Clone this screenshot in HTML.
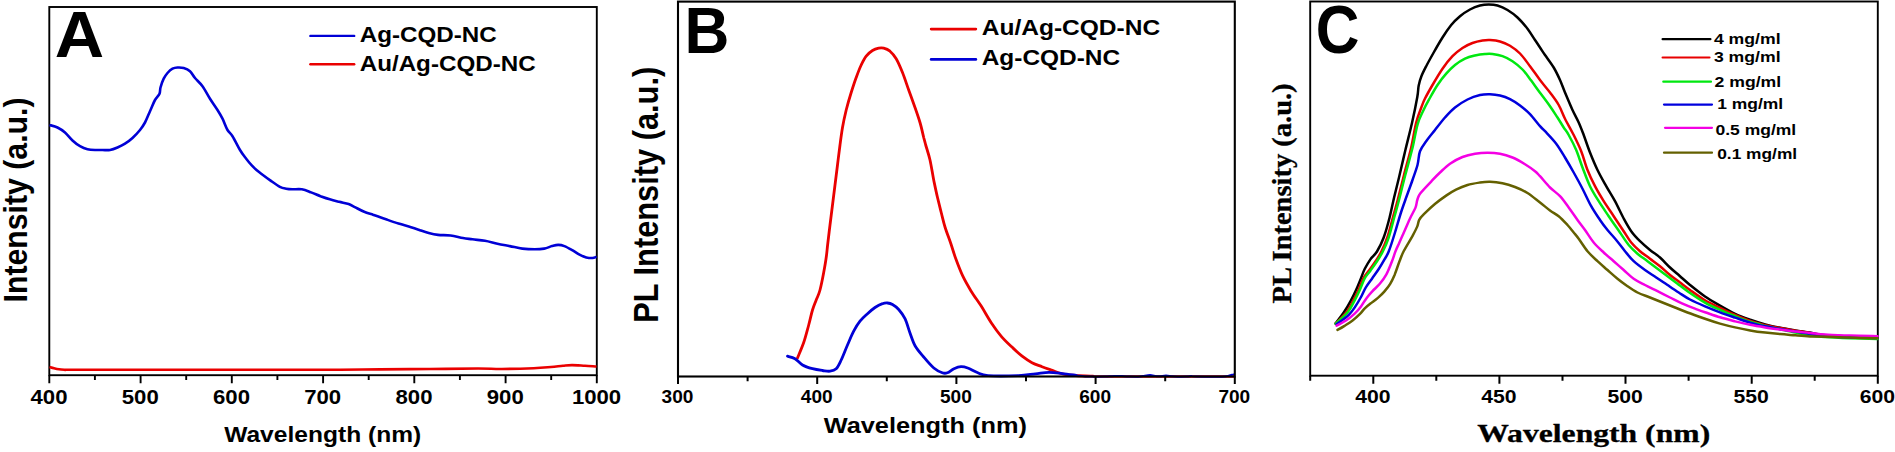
<!DOCTYPE html>
<html lang="en">
<head>
<meta charset="utf-8">
<title>Figure: absorption and PL spectra</title>
<style>
html,body{margin:0;padding:0;background:#fff;}
body{width:1895px;height:452px;overflow:hidden;}
svg{display:block;}
</style>
</head>
<body>
<svg width="1895" height="452" viewBox="0 0 1895 452">
<rect width="1895" height="452" fill="#fff"/>
<g id="chartA">
<rect x="49.3" y="7.0" width="547.5" height="368.2" fill="none" stroke="#000" stroke-width="1.9"/>
<path d="M49.3 375.2v8.1M94.9 375.2v4.9M140.6 375.2v8.1M186.2 375.2v4.9M231.8 375.2v8.1M277.4 375.2v4.9M323.1 375.2v8.1M368.7 375.2v4.9M414.3 375.2v8.1M459.9 375.2v4.9M505.6 375.2v8.1M551.2 375.2v4.9M596.8 375.2v8.1" stroke="#000" stroke-width="1.9" fill="none"/>
<path d="M49.5 367.0C50.2 367.2 52.4 367.9 54.0 368.3C55.6 368.7 57.2 369.1 59.0 369.3C60.8 369.6 63.2 369.7 65.0 369.8C66.8 369.9 60.8 369.8 70.0 369.8C79.2 369.8 98.3 369.8 120.0 369.8C141.7 369.8 173.3 369.8 200.0 369.8C226.7 369.8 256.7 369.8 280.0 369.8C303.3 369.8 323.3 369.9 340.0 369.8C356.7 369.7 365.0 369.5 380.0 369.4C395.0 369.3 413.7 369.1 430.0 369.0C446.3 368.9 466.0 368.5 478.0 368.5C490.0 368.5 492.7 369.1 502.0 369.0C511.3 368.9 525.5 368.5 533.7 368.2C541.9 367.9 546.1 367.4 551.0 367.0C555.9 366.6 559.5 366.0 563.0 365.7C566.5 365.4 568.3 365.1 572.0 365.1C575.7 365.1 580.9 365.5 585.0 365.7C589.1 365.9 594.6 366.4 596.5 366.5" fill="none" stroke="#ea0000" stroke-width="2.6" stroke-linejoin="round" stroke-linecap="butt"/>
<path d="M49.5 125.0C50.8 125.4 54.9 126.2 57.5 127.5C60.1 128.8 62.5 130.3 65.0 132.5C67.5 134.7 70.0 138.2 72.5 140.5C75.0 142.8 77.5 144.8 80.0 146.2C82.5 147.6 85.0 148.6 87.5 149.2C90.0 149.8 92.5 149.9 95.0 150.0C97.5 150.1 100.0 150.0 102.5 150.0C105.0 150.0 107.5 150.4 110.0 150.0C112.5 149.6 115.0 148.6 117.5 147.5C120.0 146.4 122.5 145.3 125.0 143.7C127.5 142.1 130.0 140.3 132.5 138.0C135.0 135.7 137.9 132.6 140.0 130.0C142.1 127.4 143.3 125.6 145.0 122.5C146.7 119.4 148.3 115.0 150.0 111.2C151.7 107.5 153.4 102.9 155.0 100.0C156.6 97.1 158.6 95.8 159.5 93.7C160.4 91.6 159.8 90.0 160.5 87.5C161.2 85.0 162.5 81.1 163.7 78.7C164.9 76.3 166.0 74.7 167.5 73.0C169.0 71.3 170.8 69.6 172.5 68.7C174.2 67.8 175.6 67.6 177.5 67.5C179.4 67.4 181.6 67.4 183.7 68.0C185.8 68.6 188.1 69.5 190.0 71.2C191.9 72.9 192.9 75.5 195.0 78.0C197.1 80.5 200.0 82.8 202.5 86.2C205.0 89.7 207.5 94.7 210.0 98.7C212.5 102.7 215.4 106.7 217.5 110.0C219.6 113.3 220.8 115.4 222.5 118.7C224.2 122.0 225.8 127.1 227.5 130.0C229.2 132.9 230.4 132.9 232.5 136.2C234.6 139.5 237.8 146.3 240.0 150.0C242.2 153.7 244.0 155.9 246.0 158.5C248.0 161.1 250.2 163.8 252.0 165.7C253.8 167.6 255.0 168.7 256.5 170.0C258.0 171.3 258.8 171.9 261.2 173.7C263.6 175.5 267.5 178.4 270.6 180.6C273.7 182.8 277.3 185.5 279.9 186.8C282.5 188.2 284.1 188.3 286.2 188.7C288.3 189.1 289.8 189.2 292.4 189.3C295.0 189.4 298.7 188.8 301.8 189.3C304.9 189.8 308.0 191.2 311.1 192.4C314.2 193.6 317.4 195.0 320.5 196.2C323.6 197.3 326.7 198.4 329.8 199.3C332.9 200.2 336.1 201.0 339.2 201.8C342.3 202.6 346.0 203.1 348.6 204.0C351.2 204.9 352.2 205.8 354.8 207.1C357.4 208.4 361.1 210.5 364.2 211.8C367.3 213.1 369.9 213.7 373.5 214.9C377.1 216.2 381.8 217.9 386.0 219.3C390.2 220.8 394.3 222.3 398.5 223.6C402.7 224.9 407.4 226.1 411.0 227.2C414.6 228.3 417.1 229.2 420.0 230.2C422.9 231.2 425.7 232.2 428.7 233.0C431.7 233.8 434.4 234.5 438.0 234.9C441.6 235.3 446.4 235.0 450.6 235.5C454.8 236.0 459.4 237.4 463.0 238.0C466.6 238.6 468.8 238.8 472.4 239.3C476.0 239.8 480.7 240.1 484.9 240.8C489.1 241.5 493.2 242.8 497.4 243.7C501.5 244.6 505.7 245.3 509.8 246.1C514.0 246.9 518.1 248.1 522.3 248.6C526.5 249.1 531.1 249.3 534.8 249.3C538.4 249.3 541.3 249.1 544.2 248.6C547.1 248.1 549.7 246.7 552.0 246.1C554.3 245.5 556.1 244.9 558.2 244.9C560.3 244.9 562.1 245.2 564.4 246.1C566.7 247.0 569.6 248.7 572.2 250.2C574.8 251.7 577.6 253.7 580.0 254.9C582.4 256.1 584.2 256.9 586.3 257.4C588.4 257.9 590.8 258.1 592.5 258.0C594.2 257.9 595.9 257.0 596.6 256.8" fill="none" stroke="#0000d6" stroke-width="2.6" stroke-linejoin="round" stroke-linecap="butt"/>
<text x="30.5" y="404.0" font-family="'Liberation Sans', Arial, sans-serif" font-weight="bold" font-size="20.5" textLength="37.0" lengthAdjust="spacingAndGlyphs">400</text>
<text x="121.8" y="404.0" font-family="'Liberation Sans', Arial, sans-serif" font-weight="bold" font-size="20.5" textLength="37.0" lengthAdjust="spacingAndGlyphs">500</text>
<text x="213.0" y="404.0" font-family="'Liberation Sans', Arial, sans-serif" font-weight="bold" font-size="20.5" textLength="37.0" lengthAdjust="spacingAndGlyphs">600</text>
<text x="304.2" y="404.0" font-family="'Liberation Sans', Arial, sans-serif" font-weight="bold" font-size="20.5" textLength="37.0" lengthAdjust="spacingAndGlyphs">700</text>
<text x="395.5" y="404.0" font-family="'Liberation Sans', Arial, sans-serif" font-weight="bold" font-size="20.5" textLength="37.0" lengthAdjust="spacingAndGlyphs">800</text>
<text x="486.8" y="404.0" font-family="'Liberation Sans', Arial, sans-serif" font-weight="bold" font-size="20.5" textLength="37.0" lengthAdjust="spacingAndGlyphs">900</text>
<text x="571.9" y="404.0" font-family="'Liberation Sans', Arial, sans-serif" font-weight="bold" font-size="20.5" textLength="49.3" lengthAdjust="spacingAndGlyphs">1000</text>
<text x="224.2" y="442.0" font-family="'Liberation Sans', Arial, sans-serif" font-weight="bold" font-size="22.3" textLength="197.0" lengthAdjust="spacingAndGlyphs">Wavelength (nm)</text>
<g transform="translate(26.8 200.0) rotate(-90) scale(1 1.100)">
<text x="0" y="0" text-anchor="middle" font-family="'Liberation Sans', Arial, sans-serif" font-weight="bold" font-size="30.0" textLength="205.0" lengthAdjust="spacingAndGlyphs">Intensity (a.u.)</text></g>
<text x="54.8" y="57.4" font-family="'Liberation Sans', Arial, sans-serif" font-weight="bold" font-size="65.4" textLength="49.4" lengthAdjust="spacingAndGlyphs">A</text>
<path d="M310.4 35.9H354.2" stroke="#0000d6" stroke-width="2.4" stroke-linecap="round"/>
<path d="M310.4 64.3H354.2" stroke="#ea0000" stroke-width="2.4" stroke-linecap="round"/>
<text x="359.7" y="42.0" font-family="'Liberation Sans', Arial, sans-serif" font-weight="bold" font-size="22.8" textLength="137.0" lengthAdjust="spacingAndGlyphs">Ag-CQD-NC</text>
<text x="359.7" y="70.5" font-family="'Liberation Sans', Arial, sans-serif" font-weight="bold" font-size="22.8" textLength="176.0" lengthAdjust="spacingAndGlyphs">Au/Ag-CQD-NC</text>
</g>
<g id="chartB">
<path d="M797.5 358.0C798.5 355.4 801.8 348.0 803.7 342.5C805.6 337.0 807.2 330.4 808.7 325.0C810.2 319.6 811.2 314.2 812.5 310.0C813.8 305.8 815.0 303.3 816.2 300.0C817.5 296.7 818.8 294.6 820.0 290.0C821.2 285.4 822.7 277.9 823.7 272.5C824.7 267.1 825.6 262.1 826.2 257.5C826.9 252.9 827.0 250.4 827.6 245.0C828.2 239.6 829.2 231.7 830.0 225.0C830.8 218.3 831.7 211.7 832.5 205.0C833.3 198.3 834.2 191.7 835.0 185.0C835.8 178.3 836.7 171.7 837.5 165.0C838.3 158.3 839.2 151.2 840.0 145.0C840.8 138.8 841.5 133.3 842.5 127.5C843.5 121.7 844.8 115.8 846.2 110.0C847.7 104.2 849.5 97.9 851.2 92.5C852.9 87.1 854.5 82.1 856.2 77.5C857.9 72.9 859.5 68.5 861.2 65.0C862.9 61.5 864.3 58.6 866.2 56.2C868.1 53.8 870.4 51.8 872.5 50.5C874.6 49.2 876.8 48.6 878.7 48.2C880.6 47.8 881.8 47.7 883.7 48.2C885.6 48.7 887.9 49.5 890.0 51.2C892.1 53.0 894.1 55.2 896.2 58.7C898.3 62.2 900.4 67.3 902.5 72.5C904.6 77.7 906.6 84.2 908.7 90.0C910.8 95.8 913.1 102.1 915.0 107.5C916.9 112.9 918.5 117.5 920.0 122.5C921.5 127.5 922.8 133.8 923.7 137.5C924.7 141.2 924.7 141.2 925.7 145.0C926.8 148.8 928.7 154.2 930.0 160.0C931.3 165.8 932.5 173.8 933.7 180.0C935.0 186.2 936.2 192.1 937.5 197.5C938.8 202.9 940.0 207.6 941.2 212.5C942.5 217.4 943.4 221.8 945.0 227.0C946.6 232.2 949.0 238.2 950.8 243.5C952.6 248.8 953.8 253.4 955.8 258.8C957.8 264.2 960.1 270.4 962.6 275.7C965.1 281.0 967.9 285.8 971.0 290.9C974.1 296.0 977.8 300.8 981.2 306.1C984.6 311.5 988.0 317.9 991.4 323.0C994.8 328.1 998.1 332.6 1001.5 336.6C1004.9 340.6 1008.3 343.6 1011.7 346.8C1015.1 350.0 1018.4 353.2 1021.8 355.9C1025.2 358.5 1028.6 360.9 1032.0 362.7C1035.4 364.5 1038.6 365.4 1042.0 366.7C1045.4 368.0 1048.9 369.2 1052.3 370.4C1055.7 371.6 1058.5 372.9 1062.4 373.8C1066.4 374.7 1070.9 375.1 1076.0 375.5C1081.1 375.9 1090.2 376.1 1093.0 376.2" fill="none" stroke="#ea0000" stroke-width="2.8" stroke-linejoin="round" stroke-linecap="round"/>
<path d="M1093.0 376.5C1116.5 376.5 1210.5 376.5 1234.0 376.5" fill="none" stroke="#ea0000" stroke-width="2.3" stroke-linecap="butt"/>
<path d="M787.5 356.2C788.8 356.6 792.5 357.2 795.0 358.7C797.5 360.2 799.6 363.3 802.5 365.0C805.4 366.7 809.2 367.8 812.5 368.7C815.8 369.6 819.6 370.1 822.5 370.5C825.4 370.9 827.7 371.5 830.0 371.2C832.3 370.9 834.3 370.6 836.2 368.7C838.1 366.8 839.3 363.9 841.2 360.0C843.1 356.1 845.4 349.8 847.5 345.0C849.6 340.2 851.6 335.2 853.7 331.2C855.8 327.2 857.7 324.1 860.0 321.2C862.3 318.3 865.0 316.0 867.5 313.7C870.0 311.4 872.5 309.2 875.0 307.5C877.5 305.8 880.4 304.4 882.5 303.7C884.6 302.9 885.8 302.9 887.5 303.0C889.2 303.1 890.6 303.4 892.5 304.5C894.4 305.6 896.6 307.1 898.7 309.5C900.8 311.9 903.1 314.8 905.0 318.7C906.9 322.6 908.3 328.4 910.0 333.0C911.7 337.6 912.9 342.0 915.2 346.0C917.5 350.0 920.6 353.3 923.7 357.0C926.8 360.7 930.7 365.4 933.8 368.0C936.9 370.6 940.0 372.0 942.3 372.8C944.6 373.6 945.4 373.5 947.4 372.8C949.4 372.1 951.7 369.7 954.0 368.7C956.3 367.7 958.7 366.8 961.0 366.7C963.3 366.6 964.9 367.0 967.7 368.0C970.5 369.0 974.4 371.5 977.8 372.8C981.2 374.1 981.2 375.1 988.0 375.6C994.8 376.1 1010.5 375.9 1018.4 375.6C1026.3 375.3 1030.3 374.3 1035.4 373.8C1040.5 373.3 1044.5 372.4 1049.0 372.4C1053.5 372.4 1057.9 373.1 1062.4 373.6C1066.9 374.1 1073.7 375.1 1076.0 375.4" fill="none" stroke="#0000d6" stroke-width="2.8" stroke-linejoin="round" stroke-linecap="round"/>
<path d="M1076.0 375.4C1078.3 375.6 1085.2 376.4 1090.0 376.6C1094.8 376.8 1101.3 376.7 1105.0 376.6C1108.7 376.5 1109.8 376.3 1112.0 376.2C1114.2 376.1 1116.0 375.9 1118.0 375.9C1120.0 375.9 1122.0 376.1 1124.0 376.2C1126.0 376.3 1127.7 376.5 1130.0 376.6C1132.3 376.7 1135.8 376.8 1138.0 376.7C1140.2 376.6 1141.0 376.4 1143.0 376.1C1145.0 375.8 1147.8 375.1 1150.0 375.1C1152.2 375.1 1154.3 375.9 1156.0 376.1C1157.7 376.3 1158.3 376.4 1160.0 376.3C1161.7 376.2 1164.0 375.5 1166.0 375.5C1168.0 375.5 1170.0 376.1 1172.0 376.3C1174.0 376.5 1175.5 376.6 1178.0 376.7C1180.5 376.8 1184.8 376.7 1187.0 376.6C1189.2 376.5 1190.0 376.1 1191.5 376.1C1193.0 376.1 1190.9 376.5 1196.0 376.6C1201.1 376.7 1216.7 376.8 1222.0 376.7C1227.3 376.6 1226.3 376.2 1228.0 375.9C1229.7 375.6 1231.0 375.1 1232.0 374.8C1233.0 374.6 1233.7 374.5 1234.0 374.4" fill="none" stroke="#0000d6" stroke-width="2.0" stroke-linejoin="round" stroke-linecap="round"/>
<rect x="678.0" y="1.6" width="556.8" height="374.9" fill="none" stroke="#000" stroke-width="2.1"/>
<path d="M678.0 376.5v7.6M747.6 376.5v4.8M817.2 376.5v7.6M886.8 376.5v4.8M956.4 376.5v7.6M1026.0 376.5v4.8M1095.6 376.5v7.6M1165.2 376.5v4.8M1234.8 376.5v7.6" stroke="#000" stroke-width="2" fill="none"/>
<text x="661.6" y="402.6" font-family="'Liberation Sans', Arial, sans-serif" font-weight="bold" font-size="19.2" textLength="31.8" lengthAdjust="spacingAndGlyphs">300</text>
<text x="800.8" y="402.6" font-family="'Liberation Sans', Arial, sans-serif" font-weight="bold" font-size="19.2" textLength="31.8" lengthAdjust="spacingAndGlyphs">400</text>
<text x="940.0" y="402.6" font-family="'Liberation Sans', Arial, sans-serif" font-weight="bold" font-size="19.2" textLength="31.8" lengthAdjust="spacingAndGlyphs">500</text>
<text x="1079.2" y="402.6" font-family="'Liberation Sans', Arial, sans-serif" font-weight="bold" font-size="19.2" textLength="31.8" lengthAdjust="spacingAndGlyphs">600</text>
<text x="1218.4" y="402.6" font-family="'Liberation Sans', Arial, sans-serif" font-weight="bold" font-size="19.2" textLength="31.8" lengthAdjust="spacingAndGlyphs">700</text>
<text x="823.7" y="432.7" font-family="'Liberation Sans', Arial, sans-serif" font-weight="bold" font-size="21.2" textLength="203.3" lengthAdjust="spacingAndGlyphs">Wavelength (nm)</text>
<g transform="translate(657.7 194.8) rotate(-90) scale(1 1.120)">
<text x="0" y="0" text-anchor="middle" font-family="'Liberation Sans', Arial, sans-serif" font-weight="bold" font-size="30.5" textLength="256.0" lengthAdjust="spacingAndGlyphs">PL Intensity (a.u.)</text></g>
<text x="684.4" y="53.0" font-family="'Liberation Sans', Arial, sans-serif" font-weight="bold" font-size="65.4" textLength="44.9" lengthAdjust="spacingAndGlyphs">B</text>
<path d="M931.2 29.1H975.8" stroke="#ea0000" stroke-width="2.8" stroke-linecap="round"/>
<path d="M931.2 59.4H975.8" stroke="#0000d6" stroke-width="2.8" stroke-linecap="round"/>
<text x="981.7" y="35.0" font-family="'Liberation Sans', Arial, sans-serif" font-weight="bold" font-size="21.9" textLength="178.5" lengthAdjust="spacingAndGlyphs">Au/Ag-CQD-NC</text>
<text x="981.7" y="64.5" font-family="'Liberation Sans', Arial, sans-serif" font-weight="bold" font-size="21.9" textLength="138.5" lengthAdjust="spacingAndGlyphs">Ag-CQD-NC</text>
</g>
<g id="chartC">
<rect x="1310.2" y="1.5" width="567.6" height="374.2" fill="none" stroke="#000" stroke-width="1.9"/>
<path d="M1310.2 375.7v5.0M1373.3 375.7v8.0M1436.3 375.7v5.0M1499.4 375.7v8.0M1562.5 375.7v5.0M1625.5 375.7v8.0M1688.6 375.7v5.0M1751.7 375.7v8.0M1814.7 375.7v5.0M1877.8 375.7v8.0" stroke="#000" stroke-width="2" fill="none"/>
<path d="M1335.6 323.3C1337.0 321.4 1341.6 315.8 1344.1 312.0C1346.6 308.2 1348.7 304.6 1350.7 300.8C1352.7 297.1 1354.6 293.3 1356.3 289.5C1358.0 285.7 1359.6 281.6 1361.0 278.2C1362.4 274.8 1363.2 271.9 1364.8 268.8C1366.4 265.7 1368.4 262.3 1370.4 259.4C1372.4 256.5 1374.8 255.2 1377.0 251.5C1379.2 247.8 1381.6 243.2 1383.7 237.5C1385.8 231.8 1387.9 224.2 1389.6 217.5C1391.3 210.8 1392.5 204.2 1394.1 197.5C1395.7 190.8 1397.1 185.4 1399.0 177.5C1400.9 169.6 1403.2 159.2 1405.4 150.0C1407.6 140.8 1410.1 131.3 1412.1 122.5C1414.1 113.7 1416.2 103.2 1417.3 97.0C1418.4 90.8 1418.0 89.0 1418.7 85.5C1419.4 82.0 1420.2 79.2 1421.5 76.0C1422.8 72.8 1424.2 70.1 1426.2 66.2C1428.2 62.3 1431.0 57.3 1433.7 52.5C1436.4 47.7 1439.6 42.1 1442.5 37.5C1445.4 32.9 1448.3 28.6 1451.2 25.0C1454.1 21.4 1456.9 18.8 1460.0 16.2C1463.1 13.6 1466.7 11.3 1470.0 9.5C1473.3 7.7 1476.9 6.3 1480.0 5.5C1483.1 4.7 1485.8 4.5 1488.7 4.5C1491.6 4.5 1494.4 4.6 1497.5 5.5C1500.6 6.4 1504.2 8.0 1507.5 10.0C1510.8 12.0 1514.2 14.4 1517.5 17.5C1520.8 20.6 1524.6 24.9 1527.5 28.7C1530.4 32.5 1532.9 36.9 1535.0 40.0C1537.1 43.1 1538.3 45.0 1540.0 47.5C1541.7 50.0 1542.7 51.7 1545.0 55.0C1547.3 58.3 1551.2 63.3 1553.7 67.5C1556.2 71.7 1558.1 75.8 1560.0 80.0C1561.9 84.2 1562.9 87.5 1565.0 92.5C1567.1 97.5 1570.2 105.0 1572.5 110.0C1574.8 115.0 1576.8 118.3 1578.7 122.5C1580.6 126.7 1581.8 130.0 1583.7 135.0C1585.6 140.0 1587.7 146.7 1590.0 152.5C1592.3 158.3 1594.8 164.4 1597.5 170.0C1600.2 175.6 1603.3 181.0 1606.2 186.2C1609.1 191.4 1612.1 195.8 1615.0 201.2C1617.9 206.6 1621.0 213.5 1623.7 218.5C1626.4 223.5 1628.5 227.4 1631.2 231.2C1633.9 235.0 1636.9 238.1 1640.0 241.2C1643.1 244.3 1646.7 247.3 1650.0 250.0C1653.3 252.7 1656.7 254.6 1660.0 257.5C1663.3 260.4 1666.7 264.4 1670.0 267.5C1673.3 270.6 1676.7 273.3 1680.0 276.2C1683.3 279.1 1685.8 281.6 1690.0 285.0C1694.2 288.4 1700.0 293.1 1705.0 296.5C1710.0 299.9 1715.0 302.7 1720.0 305.6C1725.0 308.5 1730.1 311.4 1735.1 313.8C1740.1 316.2 1745.2 318.0 1750.2 319.8C1755.2 321.6 1760.2 323.1 1765.2 324.4C1770.2 325.7 1775.2 326.8 1780.2 327.8C1785.2 328.8 1790.3 329.6 1795.3 330.4C1800.3 331.2 1805.0 331.8 1810.0 332.6C1815.0 333.4 1818.3 334.7 1825.0 335.3C1831.7 335.9 1841.2 336.2 1850.0 336.5C1858.8 336.8 1872.9 337.2 1877.5 337.3" fill="none" stroke="#000000" stroke-width="2.5" stroke-linejoin="round" stroke-linecap="round"/>
<path d="M1335.6 323.6C1337.4 321.7 1343.7 315.8 1346.6 312.0C1349.5 308.2 1351.1 304.6 1353.1 300.8C1355.1 297.1 1357.0 293.3 1358.7 289.5C1360.4 285.7 1361.8 281.4 1363.5 278.2C1365.2 275.0 1367.0 273.3 1369.0 270.5C1371.0 267.7 1373.5 264.4 1375.6 261.2C1377.7 258.0 1379.5 255.4 1381.4 251.5C1383.4 247.6 1385.4 243.2 1387.3 237.5C1389.2 231.8 1391.2 223.8 1392.9 217.5C1394.6 211.2 1395.9 207.1 1397.7 200.0C1399.5 192.9 1401.8 183.8 1404.0 175.0C1406.2 166.2 1409.2 156.2 1411.2 147.5C1413.2 138.8 1414.5 129.2 1416.2 122.5C1417.9 115.8 1419.8 111.5 1421.3 107.5C1422.8 103.5 1423.1 102.2 1425.0 98.5C1426.9 94.8 1429.6 90.0 1432.5 85.0C1435.4 80.0 1439.2 73.5 1442.5 68.7C1445.8 63.9 1449.2 59.7 1452.5 56.2C1455.8 52.8 1459.2 50.2 1462.5 48.0C1465.8 45.8 1469.2 44.2 1472.5 43.0C1475.8 41.8 1479.6 41.0 1482.5 40.5C1485.4 40.0 1487.1 39.8 1490.0 40.0C1492.9 40.2 1496.7 40.5 1500.0 41.5C1503.3 42.5 1506.7 43.7 1510.0 45.7C1513.3 47.7 1516.7 50.1 1520.0 53.5C1523.3 56.9 1526.7 61.8 1530.0 66.2C1533.3 70.6 1536.7 75.6 1540.0 80.0C1543.3 84.4 1546.9 88.3 1550.0 92.5C1553.1 96.7 1556.2 100.6 1558.7 105.0C1561.2 109.4 1562.5 113.7 1565.0 118.7C1567.5 123.7 1571.0 129.6 1573.7 135.0C1576.4 140.4 1578.9 145.4 1581.2 151.2C1583.5 157.0 1585.2 164.2 1587.5 170.0C1589.8 175.8 1592.3 181.0 1595.0 186.2C1597.7 191.4 1600.6 196.2 1603.7 201.2C1606.8 206.2 1610.4 211.2 1613.7 216.2C1617.0 221.2 1620.8 226.8 1623.7 231.2C1626.6 235.6 1628.5 239.2 1631.2 242.5C1633.9 245.8 1636.9 248.5 1640.0 251.2C1643.1 253.9 1646.7 256.2 1650.0 258.7C1653.3 261.2 1656.7 263.5 1660.0 266.2C1663.3 268.9 1666.7 272.3 1670.0 275.0C1673.3 277.7 1676.7 280.0 1680.0 282.5C1683.3 285.0 1685.8 287.0 1690.0 290.0C1694.2 293.0 1700.0 297.3 1705.0 300.3C1710.0 303.3 1715.0 305.4 1720.0 307.8C1725.0 310.2 1730.1 312.7 1735.1 314.9C1740.1 317.1 1745.2 319.2 1750.2 320.9C1755.2 322.6 1760.2 323.9 1765.2 325.1C1770.2 326.3 1775.2 327.2 1780.2 328.1C1785.2 329.0 1790.3 329.9 1795.3 330.7C1800.3 331.5 1805.0 332.2 1810.0 333.0C1815.0 333.8 1818.3 335.0 1825.0 335.6C1831.7 336.2 1841.2 336.5 1850.0 336.8C1858.8 337.1 1872.9 337.5 1877.5 337.6" fill="none" stroke="#e80000" stroke-width="2.5" stroke-linejoin="round" stroke-linecap="round"/>
<path d="M1335.6 323.9C1337.6 321.9 1344.8 315.9 1347.9 312.0C1351.0 308.1 1352.4 304.6 1354.4 300.8C1356.4 297.1 1358.3 293.3 1360.0 289.5C1361.7 285.7 1363.1 281.3 1364.8 278.2C1366.5 275.1 1368.4 273.5 1370.4 270.7C1372.4 267.9 1374.9 264.5 1377.0 261.3C1379.1 258.1 1380.8 255.5 1382.8 251.5C1384.8 247.5 1386.8 243.2 1388.7 237.5C1390.6 231.8 1392.5 223.8 1394.2 217.5C1395.9 211.2 1397.2 207.1 1399.0 200.0C1400.8 192.9 1403.0 183.8 1405.3 175.0C1407.6 166.2 1410.5 155.9 1412.6 147.5C1414.6 139.1 1415.8 130.4 1417.6 124.3C1419.3 118.2 1421.2 115.2 1423.1 111.0C1425.0 106.8 1426.8 103.5 1429.2 99.2C1431.6 94.9 1434.7 89.2 1437.5 85.0C1440.3 80.8 1443.3 77.0 1446.2 73.7C1449.1 70.4 1451.9 67.5 1455.0 65.0C1458.1 62.5 1461.7 60.3 1465.0 58.7C1468.3 57.1 1471.7 56.3 1475.0 55.5C1478.3 54.7 1482.1 54.2 1485.0 54.0C1487.9 53.8 1489.6 53.6 1492.5 54.0C1495.4 54.4 1499.2 55.0 1502.5 56.2C1505.8 57.4 1509.2 59.0 1512.5 61.2C1515.8 63.4 1519.4 66.3 1522.5 69.5C1525.6 72.7 1528.1 76.4 1531.0 80.3C1533.9 84.2 1536.8 88.4 1540.0 92.7C1543.2 97.0 1547.1 102.1 1550.0 106.2C1552.9 110.3 1555.2 114.0 1557.5 117.5C1559.8 121.0 1561.8 124.6 1563.7 127.5C1565.6 130.4 1566.6 131.2 1568.7 135.0C1570.8 138.8 1573.9 144.6 1576.2 150.0C1578.5 155.4 1580.2 161.5 1582.5 167.5C1584.8 173.5 1587.3 180.6 1590.0 186.2C1592.7 191.8 1595.6 196.2 1598.7 201.2C1601.8 206.2 1605.2 211.0 1608.7 216.2C1612.2 221.4 1616.7 227.7 1620.0 232.5C1623.3 237.3 1625.8 241.5 1628.7 245.0C1631.6 248.5 1634.4 251.0 1637.5 253.7C1640.6 256.4 1644.2 258.7 1647.5 261.2C1650.8 263.7 1654.2 266.2 1657.5 268.7C1660.8 271.2 1664.2 273.7 1667.5 276.2C1670.8 278.7 1674.2 281.2 1677.5 283.7C1680.8 286.2 1682.9 288.0 1687.5 291.2C1692.1 294.4 1699.6 299.5 1705.0 302.6C1710.4 305.7 1715.0 307.6 1720.0 309.8C1725.0 312.1 1730.1 314.1 1735.1 316.1C1740.1 318.1 1745.2 320.2 1750.2 321.8C1755.2 323.4 1760.2 324.6 1765.2 325.9C1770.2 327.1 1775.2 328.2 1780.2 329.3C1785.2 330.4 1790.3 331.6 1795.3 332.6C1800.3 333.6 1805.0 334.7 1810.0 335.4C1815.0 336.1 1818.3 336.5 1825.0 337.0C1831.7 337.5 1841.2 337.9 1850.0 338.2C1858.8 338.5 1872.9 338.9 1877.5 339.0" fill="none" stroke="#00e810" stroke-width="2.5" stroke-linejoin="round" stroke-linecap="round"/>
<path d="M1336.6 324.2C1338.6 322.6 1345.7 317.8 1348.8 314.8C1351.9 311.8 1353.4 309.4 1355.4 306.4C1357.4 303.4 1359.3 300.1 1361.0 297.0C1362.7 293.9 1363.8 290.7 1365.7 287.6C1367.6 284.5 1370.1 281.3 1372.3 278.2C1374.5 275.1 1376.9 271.9 1378.9 268.8C1380.9 265.7 1382.8 262.4 1384.5 259.4C1386.2 256.4 1387.2 255.5 1388.9 251.0C1390.7 246.5 1393.1 238.7 1395.0 232.5C1396.9 226.3 1398.8 219.4 1400.5 214.0C1402.2 208.6 1403.3 205.7 1405.3 200.0C1407.3 194.3 1410.5 185.8 1412.5 180.0C1414.5 174.2 1416.2 169.8 1417.5 165.0C1418.8 160.2 1418.5 155.2 1420.0 151.2C1421.5 147.2 1423.7 144.7 1426.2 141.2C1428.7 137.7 1431.9 133.9 1435.0 130.0C1438.1 126.0 1441.7 121.2 1445.0 117.5C1448.3 113.8 1451.2 110.5 1455.0 107.5C1458.8 104.5 1463.3 101.6 1467.5 99.5C1471.7 97.4 1476.2 95.9 1480.0 95.0C1483.8 94.1 1486.7 94.1 1490.0 94.2C1493.3 94.3 1496.7 94.7 1500.0 95.5C1503.3 96.3 1506.7 97.5 1510.0 99.2C1513.3 100.9 1516.7 103.0 1520.0 105.5C1523.3 108.0 1526.7 110.8 1530.0 114.2C1533.3 117.7 1537.5 123.4 1540.0 126.2C1542.5 129.0 1542.3 128.3 1545.0 131.2C1547.7 134.1 1552.9 139.3 1556.2 143.7C1559.5 148.1 1562.1 152.7 1565.0 157.5C1567.9 162.3 1570.8 167.3 1573.7 172.5C1576.6 177.7 1579.6 183.1 1582.5 188.7C1585.4 194.3 1588.3 201.0 1591.2 206.2C1594.1 211.4 1597.3 216.0 1600.0 220.0C1602.7 224.0 1604.8 226.7 1607.5 230.0C1610.2 233.3 1613.3 236.5 1616.2 240.0C1619.1 243.5 1622.1 247.7 1625.0 251.2C1627.9 254.7 1630.4 258.1 1633.7 261.2C1637.0 264.3 1641.2 267.3 1645.0 270.0C1648.8 272.7 1652.5 275.0 1656.2 277.5C1660.0 280.0 1663.8 282.5 1667.5 285.0C1671.2 287.5 1675.0 290.1 1678.7 292.5C1682.5 294.9 1685.6 297.2 1690.0 299.5C1694.4 301.8 1700.0 304.2 1705.0 306.3C1710.0 308.4 1715.0 310.4 1720.0 312.3C1725.0 314.2 1730.1 315.9 1735.1 317.6C1740.1 319.3 1745.2 321.2 1750.2 322.6C1755.2 324.1 1760.2 325.2 1765.2 326.3C1770.2 327.4 1775.2 328.1 1780.2 329.0C1785.2 329.9 1790.3 330.8 1795.3 331.6C1800.3 332.4 1805.0 333.0 1810.0 333.8C1815.0 334.6 1818.3 335.7 1825.0 336.3C1831.7 336.9 1841.2 337.0 1850.0 337.3C1858.8 337.6 1872.9 337.9 1877.5 338.0" fill="none" stroke="#0000dd" stroke-width="2.5" stroke-linejoin="round" stroke-linecap="round"/>
<path d="M1336.6 325.6C1338.2 324.8 1343.0 322.4 1346.0 320.5C1349.0 318.6 1351.9 316.2 1354.4 313.9C1356.9 311.5 1359.0 309.1 1361.0 306.4C1363.0 303.7 1364.8 300.4 1366.7 297.9C1368.6 295.4 1370.1 293.8 1372.3 291.4C1374.5 289.0 1377.4 286.6 1379.8 283.8C1382.2 281.0 1384.4 278.1 1386.4 274.4C1388.4 270.6 1390.5 265.2 1392.0 261.3C1393.5 257.4 1394.4 254.0 1395.6 251.0C1396.8 248.0 1397.7 246.3 1399.0 243.5C1400.3 240.7 1401.4 238.0 1403.2 233.9C1405.0 229.8 1407.8 223.3 1409.8 218.9C1411.8 214.5 1414.2 210.8 1415.5 207.6C1416.8 204.4 1416.5 202.3 1417.3 200.0C1418.1 197.7 1417.8 196.6 1420.2 193.5C1422.6 190.4 1428.1 184.8 1431.4 181.3C1434.7 177.8 1436.9 175.4 1440.0 172.5C1443.1 169.6 1446.2 166.3 1450.0 163.7C1453.8 161.1 1458.3 158.7 1462.5 157.0C1466.7 155.3 1470.8 154.4 1475.0 153.7C1479.2 153.0 1483.3 152.7 1487.5 152.7C1491.7 152.7 1495.8 152.9 1500.0 153.7C1504.2 154.5 1508.3 155.8 1512.5 157.5C1516.7 159.2 1521.2 161.9 1525.0 164.2C1528.8 166.5 1532.5 169.2 1535.0 171.2C1537.5 173.2 1537.5 173.5 1540.0 176.2C1542.5 178.9 1546.7 184.2 1550.0 187.5C1553.3 190.8 1556.9 192.9 1560.0 196.2C1563.1 199.5 1565.8 203.5 1568.7 207.5C1571.6 211.5 1574.8 216.2 1577.5 220.0C1580.2 223.8 1582.3 226.2 1585.0 230.0C1587.7 233.8 1590.6 238.8 1593.7 242.5C1596.8 246.2 1600.4 249.4 1603.7 252.5C1607.0 255.6 1610.4 258.3 1613.7 261.2C1617.0 264.1 1620.4 267.1 1623.7 270.0C1627.0 272.9 1630.2 276.2 1633.7 278.7C1637.2 281.2 1641.0 282.9 1645.0 285.0C1649.0 287.1 1653.3 289.1 1657.5 291.2C1661.7 293.3 1665.8 295.4 1670.0 297.5C1674.2 299.6 1678.3 301.8 1682.5 303.7C1686.7 305.6 1691.2 307.3 1695.0 308.7C1698.8 310.1 1700.8 310.9 1705.0 312.3C1709.2 313.7 1715.0 315.8 1720.0 317.3C1725.0 318.8 1730.1 320.1 1735.1 321.4C1740.1 322.6 1745.2 323.8 1750.2 324.8C1755.2 325.8 1760.2 326.6 1765.2 327.4C1770.2 328.2 1775.2 328.9 1780.2 329.6C1785.2 330.3 1790.3 331.1 1795.3 331.6C1800.3 332.2 1805.0 332.4 1810.0 332.9C1815.0 333.4 1818.3 334.2 1825.0 334.6C1831.7 335.1 1841.2 335.3 1850.0 335.6C1858.8 335.9 1872.9 336.1 1877.5 336.2" fill="none" stroke="#f400e4" stroke-width="2.5" stroke-linejoin="round" stroke-linecap="round"/>
<path d="M1337.5 329.9C1338.6 329.3 1341.6 327.7 1344.1 326.1C1346.6 324.5 1349.9 322.5 1352.6 320.5C1355.2 318.5 1358.0 315.9 1360.0 313.9C1362.0 311.9 1363.1 310.0 1364.8 308.3C1366.5 306.6 1368.2 305.3 1370.4 303.6C1372.6 301.9 1375.6 299.9 1377.9 297.9C1380.2 295.9 1382.5 293.8 1384.5 291.4C1386.5 289.0 1388.5 286.6 1390.2 283.8C1391.9 281.0 1393.2 278.1 1394.8 274.4C1396.3 270.6 1398.0 265.2 1399.5 261.3C1401.0 257.4 1401.6 255.2 1403.8 251.0C1406.0 246.8 1410.3 239.9 1412.6 235.8C1414.8 231.7 1416.2 229.1 1417.3 226.4C1418.4 223.7 1418.1 221.8 1419.2 219.8C1420.3 217.8 1421.2 216.9 1423.9 214.2C1426.6 211.5 1431.4 206.9 1435.2 203.8C1439.0 200.7 1443.0 197.8 1446.5 195.4C1450.0 193.0 1452.5 191.3 1456.0 189.6C1459.5 187.9 1463.5 186.2 1467.5 185.0C1471.5 183.8 1476.2 183.1 1480.0 182.5C1483.8 181.9 1486.2 181.6 1490.0 181.7C1493.8 181.8 1498.3 182.3 1502.5 183.2C1506.7 184.1 1510.8 185.4 1515.0 187.0C1519.2 188.6 1523.3 190.4 1527.5 193.0C1531.7 195.6 1536.2 199.6 1540.0 202.5C1543.8 205.4 1546.9 208.2 1550.0 210.5C1553.1 212.8 1555.8 213.8 1558.7 216.2C1561.6 218.6 1565.0 222.3 1567.5 225.0C1570.0 227.7 1571.8 230.2 1573.7 232.5C1575.6 234.8 1576.4 235.6 1578.7 238.7C1581.0 241.8 1584.4 247.4 1587.5 251.2C1590.6 254.9 1594.2 258.1 1597.5 261.2C1600.8 264.3 1604.2 267.1 1607.5 270.0C1610.8 272.9 1614.2 276.0 1617.5 278.7C1620.8 281.4 1624.2 283.9 1627.5 286.2C1630.8 288.5 1633.8 290.6 1637.5 292.5C1641.2 294.4 1645.8 295.8 1650.0 297.5C1654.2 299.2 1658.3 300.8 1662.5 302.5C1666.7 304.2 1670.8 305.8 1675.0 307.5C1679.2 309.2 1682.5 310.6 1687.5 312.5C1692.5 314.4 1699.6 316.9 1705.0 318.8C1710.4 320.7 1715.0 322.2 1720.0 323.6C1725.0 325.0 1730.1 326.3 1735.1 327.4C1740.1 328.5 1745.2 329.5 1750.2 330.4C1755.2 331.3 1760.2 332.0 1765.2 332.6C1770.2 333.2 1775.2 333.7 1780.2 334.1C1785.2 334.6 1790.3 334.9 1795.3 335.3C1800.3 335.7 1805.0 336.1 1810.0 336.4C1815.0 336.6 1818.3 336.6 1825.0 336.8C1831.7 337.0 1841.2 337.4 1850.0 337.6C1858.8 337.9 1872.9 338.2 1877.5 338.3" fill="none" stroke="#646000" stroke-width="2.5" stroke-linejoin="round" stroke-linecap="round"/>
<text x="1355.2" y="403.3" font-family="'Liberation Sans', Arial, sans-serif" font-weight="bold" font-size="19.2" textLength="35.3" lengthAdjust="spacingAndGlyphs">400</text>
<text x="1481.3" y="403.3" font-family="'Liberation Sans', Arial, sans-serif" font-weight="bold" font-size="19.2" textLength="35.3" lengthAdjust="spacingAndGlyphs">450</text>
<text x="1607.5" y="403.3" font-family="'Liberation Sans', Arial, sans-serif" font-weight="bold" font-size="19.2" textLength="35.3" lengthAdjust="spacingAndGlyphs">500</text>
<text x="1733.6" y="403.3" font-family="'Liberation Sans', Arial, sans-serif" font-weight="bold" font-size="19.2" textLength="35.3" lengthAdjust="spacingAndGlyphs">550</text>
<text x="1859.7" y="403.3" font-family="'Liberation Sans', Arial, sans-serif" font-weight="bold" font-size="19.2" textLength="35.3" lengthAdjust="spacingAndGlyphs">600</text>
<text x="1477.2" y="441.8" font-family="'Liberation Serif', 'Times New Roman', serif" font-weight="bold" font-size="25.0" textLength="233.0" lengthAdjust="spacingAndGlyphs" stroke="#000" stroke-width="0.3">Wavelength (nm)</text>
<g transform="translate(1291.3 193.4) rotate(-90) scale(1 1.000)">
<text x="0" y="0" text-anchor="middle" font-family="'Liberation Serif', 'Times New Roman', serif" font-weight="bold" font-size="28.0" textLength="220.0" lengthAdjust="spacingAndGlyphs" stroke="#000" stroke-width="0.3">PL Intensity (a.u.)</text></g>
<text x="1315.8" y="53.2" font-family="'Liberation Sans', Arial, sans-serif" font-weight="bold" font-size="67.6" textLength="43.7" lengthAdjust="spacingAndGlyphs">C</text>
<path d="M1662.6 39.2H1710.4" stroke="#000000" stroke-width="2.2" stroke-linecap="round"/>
<text x="1713.9" y="43.6" font-family="'Liberation Sans', Arial, sans-serif" font-weight="bold" font-size="14.8" textLength="66.7" lengthAdjust="spacingAndGlyphs">4 mg/ml</text>
<path d="M1662.6 57.5H1709.5" stroke="#e80000" stroke-width="2.2" stroke-linecap="round"/>
<text x="1713.9" y="61.7" font-family="'Liberation Sans', Arial, sans-serif" font-weight="bold" font-size="14.8" textLength="66.7" lengthAdjust="spacingAndGlyphs">3 mg/ml</text>
<path d="M1663.3 81.7H1711.0" stroke="#00e810" stroke-width="2.2" stroke-linecap="round"/>
<text x="1714.5" y="86.7" font-family="'Liberation Sans', Arial, sans-serif" font-weight="bold" font-size="14.8" textLength="66.7" lengthAdjust="spacingAndGlyphs">2 mg/ml</text>
<path d="M1664.0 104.6H1712.0" stroke="#0000dd" stroke-width="2.2" stroke-linecap="round"/>
<text x="1717.2" y="109.3" font-family="'Liberation Sans', Arial, sans-serif" font-weight="bold" font-size="14.8" textLength="66.0" lengthAdjust="spacingAndGlyphs">1 mg/ml</text>
<path d="M1665.0 127.8H1712.0" stroke="#f400e4" stroke-width="2.2" stroke-linecap="round"/>
<text x="1715.5" y="134.8" font-family="'Liberation Sans', Arial, sans-serif" font-weight="bold" font-size="14.8" textLength="80.7" lengthAdjust="spacingAndGlyphs">0.5 mg/ml</text>
<path d="M1664.0 152.7H1712.0" stroke="#646000" stroke-width="2.2" stroke-linecap="round"/>
<text x="1717.2" y="158.7" font-family="'Liberation Sans', Arial, sans-serif" font-weight="bold" font-size="14.8" textLength="80.0" lengthAdjust="spacingAndGlyphs">0.1 mg/ml</text>
</g>
</svg>
</body>
</html>
